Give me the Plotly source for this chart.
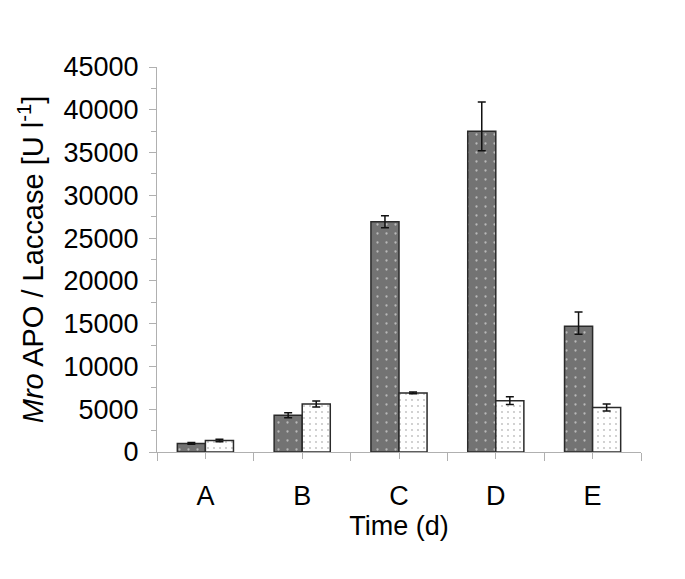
import plotly.graph_objects as go

categories = ["A", "B", "C", "D", "E"]
x_pos = [0, 1, 2, 3, 4]
boundaries = [-0.5, 0.5, 1.5, 2.5, 3.5, 4.5]

mro_apo = [1000, 4300, 26900, 37500, 14700]
mro_apo_err_plus = [100, 300, 700, 3400, 1650]
mro_apo_err_minus = [100, 300, 700, 2300, 950]

laccase = [1350, 5600, 6900, 6000, 5200]
laccase_err = [150, 350, 100, 450, 400]

y_ticks = [0, 5000, 10000, 15000, 20000, 25000, 30000, 35000, 40000, 45000]

FONT = "Liberation Sans, Arial, sans-serif"
AXIS_GRAY = "#b0b0b0"

fig = go.Figure()

fig.add_trace(go.Bar(
    x=x_pos, y=mro_apo, name="MroAPO",
    marker=dict(
        color="#737373",
        line=dict(color="#2a2a2a", width=1.5),
        pattern=dict(shape=".", bgcolor="#737373", fgcolor="#ffffff",
                     size=9, solidity=0.05),
    ),
    error_y=dict(type="data", symmetric=False, array=mro_apo_err_plus,
                 arrayminus=mro_apo_err_minus, color="#111111",
                 thickness=1.5, width=4),
))

fig.add_trace(go.Bar(
    x=x_pos, y=laccase, name="Laccase",
    marker=dict(
        color="#ffffff",
        line=dict(color="#2a2a2a", width=1.5),
        pattern=dict(shape=".", bgcolor="#ffffff", fgcolor="#7a7a7a",
                     size=6, solidity=0.07),
    ),
    error_y=dict(type="data", array=laccase_err, color="#111111",
                 thickness=1.5, width=4),
))

fig.update_layout(
    width=685, height=579,
    margin=dict(l=149, r=52, t=59, b=135),
    paper_bgcolor="white", plot_bgcolor="white",
    barmode="group", bargap=0.42, bargroupgap=0,
    showlegend=False,
    font=dict(family=FONT, size=27, color="black"),
)

fig.update_xaxes(
    range=[-0.5, 4.5],
    tickmode="array", tickvals=x_pos, ticktext=categories,
    ticks="outside", ticklen=6, tickcolor=AXIS_GRAY, tickwidth=1,
    minor=dict(tickmode="array", tickvals=boundaries, ticks="outside",
               ticklen=8, tickcolor=AXIS_GRAY, tickwidth=1),
    showline=True, linecolor=AXIS_GRAY, linewidth=1,
    showgrid=False, zeroline=False,
    tickfont=dict(family=FONT, size=27, color="black"),
    ticklabelstandoff=14,
    title=dict(text="Time (d)", font=dict(family=FONT, size=27, color="black"),
               standoff=1),
)

fig.update_yaxes(
    range=[0, 45000],
    tickmode="array", tickvals=y_ticks, tickformat="d",
    ticks="outside", ticklen=7, tickcolor=AXIS_GRAY, tickwidth=1,
    minor=dict(dtick=2500, ticks="outside", ticklen=5,
               tickcolor=AXIS_GRAY, tickwidth=1),
    showline=True, linecolor=AXIS_GRAY, linewidth=1,
    showgrid=False, zeroline=False,
    tickfont=dict(family=FONT, size=27, color="black"),
    ticklabelstandoff=5,
    title=dict(text="<i>Mro</i> APO / Laccase [U l<sup>-1</sup>]",
               font=dict(family=FONT, size=29, color="black"),
               standoff=11),
)

fig.write_html("out.html")
